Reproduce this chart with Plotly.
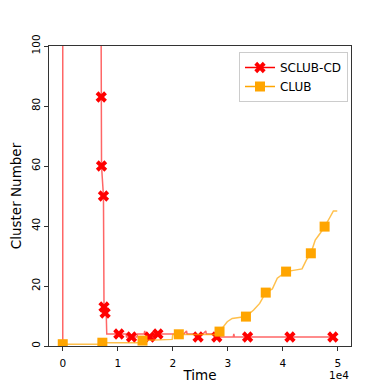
import plotly.graph_objects as go

# SCLUB-CD: full line and the points that carry a marker
sclub_t = [0, 0, 6900, 7000, 7050, 7400, 7500, 7700, 7900, 8000, 9500, 9600, 9700,
           10200, 11500, 11600, 13500, 13600, 14800, 14900, 15000, 15800, 16500,
           17300, 19000, 20500, 22000, 22500, 22600, 24000, 24600, 25500, 26000,
           26100, 27500, 28000, 31000, 31100, 31200, 49100]
sclub_y = [0, 150, 150, 83, 60, 50, 13, 11, 11, 4, 4, 5, 4,
           4, 4, 3, 3, 4, 4, 5, 4, 3, 4,
           4, 4, 4, 4, 5, 4, 4, 3, 4, 5,
           4, 4, 3, 3, 4, 3, 3]
sclub_mark_t = [7000, 7050, 7400, 7500, 7700, 10200, 12500, 15800, 17300, 24600,
                28000, 33600, 41300, 49100]
sclub_mark_y = [83, 60, 50, 13, 11, 4, 3, 3, 4, 3, 3, 3, 3, 3]

# CLUB
club_t = [0, 7000, 7200, 14400, 14500, 19000, 19900, 20000, 28000, 28500, 29900,
          30800, 33300, 34700, 35800, 36900, 38100, 39000, 40600, 43500, 44300,
          45100, 45900, 46800, 47600, 48600, 49200, 49900]
club_y = [0.6, 0.6, 1.1, 1.1, 1.8, 2.2, 2.2, 3.8, 3.8, 4.8, 8.1,
          9.2, 9.8, 12, 14.2, 17.8, 19, 22.6, 24.8, 25.7, 28.7,
          30.9, 35.3, 37.6, 39.8, 43, 45, 45]
club_mark_t = [0, 7200, 14500, 21100, 28500, 33300, 36900, 40600, 45100, 47600]
club_mark_y = [0.6, 1.1, 1.8, 3.9, 4.8, 9.8, 17.8, 24.8, 30.9, 39.8]

xticks = [0, 10000, 20000, 30000, 40000, 50000]
xtick_text = ["0", "1", "2", "3", "4", "5"]

fig = go.Figure()

fig.add_trace(go.Scatter(x=sclub_t, y=sclub_y, mode="lines",
                         line=dict(color="rgba(255,0,0,0.6)", width=1.5), showlegend=False))
fig.add_trace(go.Scatter(x=sclub_mark_t, y=sclub_mark_y, mode="markers",
                         marker=dict(symbol="x", size=10, color="red"), showlegend=False))
fig.add_trace(go.Scatter(x=club_t, y=club_y, mode="lines",
                         line=dict(color="rgba(255,165,0,0.7)", width=1.5), showlegend=False))
fig.add_trace(go.Scatter(x=club_mark_t, y=club_mark_y, mode="markers",
                         marker=dict(symbol="square", size=10, color="orange"), showlegend=False))

# legend entries
fig.add_trace(go.Scatter(x=[None], y=[None], mode="lines+markers", name="SCLUB-CD",
                         line=dict(color="red", width=1.5),
                         marker=dict(symbol="x", size=10, color="red")))
fig.add_trace(go.Scatter(x=[None], y=[None], mode="lines+markers", name="CLUB",
                         line=dict(color="orange", width=1.5),
                         marker=dict(symbol="square", size=10, color="orange")))

axis_style = dict(showgrid=False, zeroline=False, showline=True, mirror=True,
                  linecolor="#333", linewidth=1, ticks="outside", ticklen=4,
                  tickcolor="#333", tickfont=dict(size=10.5, color="black"))

fig.update_xaxes(range=[-2500, 52400], tickvals=xticks, ticktext=xtick_text,
                 ticklabelstandoff=3,
                 title=dict(text="Time", font=dict(size=13.5, color="black"), standoff=2),
                 **axis_style)
fig.update_yaxes(range=[0, 100], tickvals=[0, 20, 40, 60, 80, 100], tickangle=-90,
                 title=dict(text="Cluster Number", font=dict(size=13.5, color="black"), standoff=5),
                 **axis_style)

fig.add_annotation(text="1e4", x=1.0, y=-0.097, xref="paper", yref="paper",
                   xanchor="right", yanchor="middle", showarrow=False,
                   font=dict(size=10.5, color="black"))

# page body adds an 8px offset, margins compensate for it
fig.update_layout(
    width=390, height=390,
    margin=dict(l=41, r=47, t=38, b=52, autoexpand=False),
    plot_bgcolor="white", paper_bgcolor="white",
    font=dict(family="DejaVu Sans", color="black"),
    legend=dict(x=0.99, y=0.98, xanchor="right", yanchor="top",
                bgcolor="white", bordercolor="#ccc", borderwidth=1,
                font=dict(size=12), tracegroupgap=0),
)

fig.write_html("out.html")
